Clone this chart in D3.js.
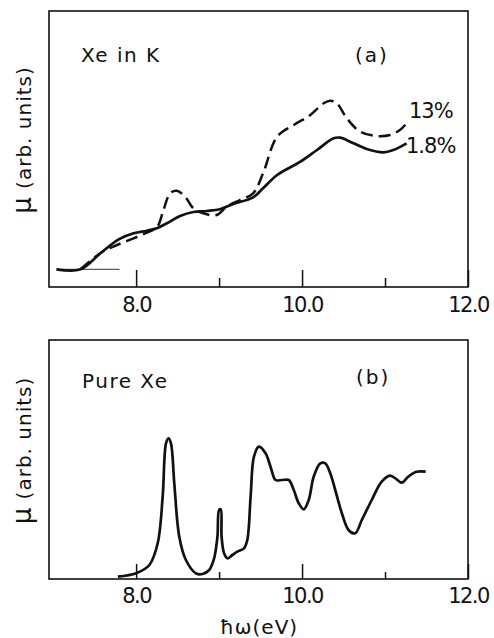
<!DOCTYPE html>
<html>
<head>
<meta charset="utf-8">
<script src="https://cdn.jsdelivr.net/npm/d3@7"></script>
<style>
  body { margin: 0; background: #fff; }
  svg { display: block; }
  text { font-family: "DejaVu Sans", sans-serif; fill: #111; }
</style>
</head>
<body>
<svg id="chart" width="494" height="638"></svg>
<script>
// Panel (a): Xe in K, photon energy (eV) and absorption (arb. units)
const energyA13 = [7.33, 7.59, 7.77, 7.97, 8.13, 8.25, 8.33, 8.41, 8.49, 8.59, 8.69, 8.81, 8.97, 9.09, 9.25, 9.41, 9.53, 9.70, 9.90, 10.10, 10.26, 10.34, 10.42, 10.54, 10.70, 10.90, 11.06, 11.18, 11.26];
const muA13 = [17.7, 35, 42, 48.7, 54.3, 59.7, 77, 93.7, 96.3, 90.3, 78.7, 73.7, 72, 80.3, 87, 93.7, 113.7, 150.3, 162, 172, 183.7, 186.3, 183.7, 168.7, 155.3, 151, 152, 157, 163.7];

const energyA18 = [7.04, 7.33, 7.57, 7.79, 7.97, 8.13, 8.25, 8.37, 8.53, 8.69, 8.85, 9.01, 9.17, 9.41, 9.53, 9.70, 9.98, 10.18, 10.38, 10.46, 10.62, 10.78, 10.98, 11.10, 11.26];
const muA18 = [17.7, 17.7, 33.7, 47.7, 53.7, 56.3, 58.7, 63.7, 71, 75, 76, 77.7, 83, 89.7, 98.7, 112, 125.3, 137, 148.7, 149.3, 143.7, 138, 134.7, 137, 143.7];

const baselineA = [7.04, 7.80];
const baselineMu = 17.7;

// Panel (b): pure Xe
const energyB = [7.78, 8.00, 8.16, 8.26, 8.32, 8.36, 8.39, 8.42, 8.46, 8.52, 8.60, 8.72, 8.80, 8.88, 8.94, 8.98, 9.00, 9.02, 9.03, 9.06, 9.10, 9.16, 9.22, 9.30, 9.34, 9.38, 9.42, 9.48, 9.56, 9.62, 9.68, 9.76, 9.84, 9.90, 9.96, 10.02, 10.08, 10.14, 10.22, 10.28, 10.34, 10.40, 10.48, 10.56, 10.64, 10.72, 10.84, 10.96, 11.06, 11.14, 11.20, 11.28, 11.38, 11.49];
const muB = [2.3, 5.7, 14, 35.7, 82.3, 135.7, 140.7, 135.7, 95.7, 42.3, 19, 5.7, 5, 9, 20.7, 42.3, 69, 69.7, 42.3, 25.7, 20.7, 24, 27.3, 30.7, 39, 82.3, 122.3, 132.3, 125.7, 112.3, 99, 99, 99, 89, 75.7, 69.7, 79, 102.3, 115.7, 115.7, 105.7, 89, 65.7, 49, 45.7, 59, 79, 97.3, 103.3, 99.7, 96.3, 102.3, 107.3, 107.3];

const majorTicks = [8, 10, 12];
const minorTicks = [9, 11];
const tickLabels = ["8.0", "10.0", "12.0"];

const svg = d3.select("#chart");

const x = d3.scaleLinear().domain([6.95, 12.0]).range([49, 468]);

const panels = [
  { top: 11, bottom: 287, yMax: 276, labelPad: 10, major: 17, minor: 9 },
  { top: 340, bottom: 579, yMax: 239, labelPad: 9, major: 15, minor: 7 }
];

panels.forEach(p => {
  p.y = d3.scaleLinear().domain([0, p.yMax]).range([p.bottom, p.top]);

  svg.append("rect")
      .attr("x", x.range()[0])
      .attr("y", p.top)
      .attr("width", x.range()[1] - x.range()[0])
      .attr("height", p.bottom - p.top)
      .attr("fill", "none")
      .attr("stroke", "#111")
      .attr("stroke-width", 1.6);

  const major = svg.append("g")
      .attr("transform", `translate(0,${p.bottom})`)
      .call(d3.axisBottom(x)
        .tickValues(majorTicks)
        .tickSizeInner(-p.major)
        .tickSizeOuter(0)
        .tickPadding(p.labelPad)
        .tickFormat((d, i) => tickLabels[i]));
  major.select(".domain").remove();
  major.selectAll("line").attr("stroke", "#111").attr("stroke-width", 1.5);
  major.selectAll("text")
      .attr("font-size", 21)
      .attr("letter-spacing", -1.5)
      .attr("fill", "#111");

  const minor = svg.append("g")
      .attr("transform", `translate(0,${p.bottom})`)
      .call(d3.axisBottom(x)
        .tickValues(minorTicks)
        .tickSizeInner(-p.minor)
        .tickSizeOuter(0)
        .tickFormat(""));
  minor.select(".domain").remove();
  minor.selectAll("line").attr("stroke", "#111").attr("stroke-width", 1.5);

  const ylab = svg.append("text")
      .attr("transform", `translate(31,${(p.top + p.bottom) / 2 - 9}) rotate(-90)`)
      .attr("text-anchor", "middle")
      .attr("font-size", 20)
      .attr("letter-spacing", 1);
  ylab.append("tspan").attr("font-size", 26).text("μ");
  ylab.append("tspan").text(" (arb. units)");
});

const [pa, pb] = panels;

const lineA = d3.line()
    .x(d => x(d[0]))
    .y(d => pa.y(d[1]))
    .curve(d3.curveCatmullRom.alpha(0.5));

const lineB = d3.line()
    .x(d => x(d[0]))
    .y(d => pb.y(d[1]))
    .curve(d3.curveCatmullRom.alpha(0.5));

// thin zero reference line
svg.append("line")
    .attr("x1", x(baselineA[0]))
    .attr("x2", x(baselineA[1]))
    .attr("y1", pa.y(baselineMu))
    .attr("y2", pa.y(baselineMu))
    .attr("stroke", "#333")
    .attr("stroke-width", 1);

svg.append("path")
    .datum(d3.zip(energyA18, muA18))
    .attr("d", lineA)
    .attr("fill", "none")
    .attr("stroke", "#111")
    .attr("stroke-width", 2.7)
    .attr("stroke-linejoin", "round");

svg.append("path")
    .datum(d3.zip(energyA13, muA13))
    .attr("d", lineA)
    .attr("fill", "none")
    .attr("stroke", "#111")
    .attr("stroke-width", 2.5)
    .attr("stroke-dasharray", "12 6");

svg.append("path")
    .datum(d3.zip(energyB, muB))
    .attr("d", lineB)
    .attr("fill", "none")
    .attr("stroke", "#111")
    .attr("stroke-width", 2.7)
    .attr("stroke-linejoin", "round");

// annotations
const notes = svg.append("g").attr("font-size", 20);
notes.append("text").attr("x", 81).attr("y", 62).attr("letter-spacing", 1.5).text("Xe in K");
notes.append("text").attr("x", 355).attr("y", 62).attr("letter-spacing", 2).text("(a)");
notes.append("text").attr("x", 409).attr("y", 118).attr("font-size", 21).attr("letter-spacing", -1).text("13%");
notes.append("text").attr("x", 406).attr("y", 153).attr("font-size", 21).attr("letter-spacing", -1).text("1.8%");
notes.append("text").attr("x", 82).attr("y", 388).attr("letter-spacing", 1.5).text("Pure Xe");
notes.append("text").attr("x", 356).attr("y", 384).attr("letter-spacing", 2).text("(b)");

svg.append("text")
    .attr("x", 259)
    .attr("y", 634)
    .attr("text-anchor", "middle")
    .attr("font-size", 20)
    .attr("letter-spacing", 1)
    .text("ħω(eV)");
</script>
</body>
</html>
